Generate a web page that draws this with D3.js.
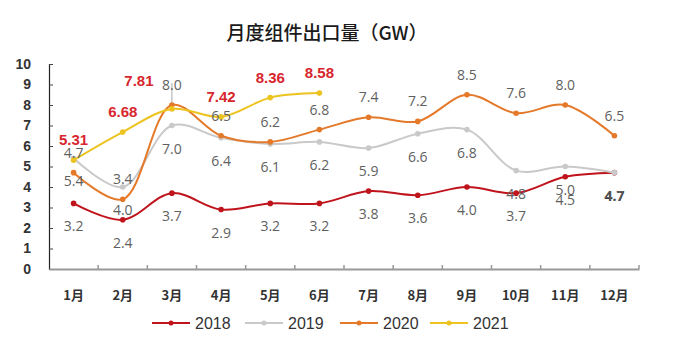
<!DOCTYPE html>
<html>
<head>
<meta charset="utf-8">
<script src="https://cdn.jsdelivr.net/npm/d3@7"></script>
<style>
	body { margin: 0; background: #fff; }
	svg { display: block; }
</style>
</head>
<body>
<svg id="chart" width="680" height="343"></svg>
<script>
'use strict';

var arrayMonths = ['1月','2月','3月','4月','5月','6月','7月','8月','9月','10月','11月','12月'];
var array2018 = [3.2, 2.4, 3.7, 2.9, 3.2, 3.2, 3.8, 3.6, 4.0, 3.7, 4.5, 4.7];
var array2019 = [5.4, 4.0, 7.0, 6.4, 6.1, 6.2, 5.9, 6.6, 6.8, 4.8, 5.0, 4.7];
var array2020 = [4.7, 3.4, 8.0, 6.5, 6.2, 6.8, 7.4, 7.2, 8.5, 7.6, 8.0, 6.5];
var array2021 = [5.31, 6.68, 7.81, 7.42, 8.36, 8.58];
var arrayYTicks = [0, 1, 2, 3, 4, 5, 6, 7, 8, 9, 10];

var arraySeries = [
	{ name: '2018', values: array2018, color: '#c0141c', labelPos: 'below' },
	{ name: '2019', values: array2019, color: '#c9c9c9', labelPos: 'below' },
	{ name: '2020', values: array2020, color: '#e5792a', labelPos: 'above' },
	{ name: '2021', values: array2021, color: '#ecc31f', labelPos: 'above' }
];

var svg = d3.select('#chart');
var nLeft = 49, nRight = 639, nTop = 64, nBottom = 269;

var xScale = d3.scaleBand()
	.domain(arrayMonths)
	.range([nLeft, nRight]);

var yScale = d3.scaleLinear()
	.domain([0, 10])
	.range([nBottom, nTop]);

function xCenter(i) { return xScale(arrayMonths[i]) + xScale.bandwidth() / 2; }

// title
svg.append('text')
	.attr('x', 327).attr('y', 40)
	.attr('text-anchor', 'middle')
	.attr('font-family', '"Noto Sans CJK SC", sans-serif')
	.attr('font-size', 19)
	.attr('font-weight', 500)
	.attr('fill', '#1a1a1a')
	.text('月度组件出口量（GW）');

// y axis
var yAxis = svg.append('g')
	.attr('transform', 'translate(' + nLeft + ',0)')
	.call(d3.axisLeft(yScale).tickValues(arrayYTicks).tickSize(-4).tickPadding(18));
yAxis.select('.domain').attr('stroke', '#222').attr('stroke-width', 1.2);
yAxis.selectAll('.tick line').attr('stroke', '#444');
yAxis.selectAll('text')
	.attr('font-family', '"Liberation Sans", Arial, sans-serif')
	.attr('font-size', 14)
	.attr('font-weight', 'bold')
	.attr('fill', '#333');

// x axis
var xAxis = svg.append('g')
	.attr('transform', 'translate(0,' + nBottom + ')')
	.call(d3.axisBottom(xScale).tickSize(0).tickPadding(22));
xAxis.select('.domain').attr('stroke', '#999').attr('stroke-width', 2);
xAxis.selectAll('text')
	.attr('font-family', '"Noto Sans CJK SC", sans-serif')
	.attr('font-size', 13)
	.attr('font-weight', 'bold')
	.attr('fill', '#333');
svg.append('g').selectAll('line')
	.data(d3.range(1, arrayMonths.length + 1))
	.enter().append('line')
	.attr('x1', function(i) { return nLeft + i * xScale.step(); })
	.attr('x2', function(i) { return nLeft + i * xScale.step(); })
	.attr('y1', nBottom).attr('y2', nBottom - 4)
	.attr('stroke', '#999').attr('stroke-width', 1.5);

// leader line for March 2020 label
svg.append('line')
	.attr('x1', xCenter(2)).attr('x2', xCenter(2))
	.attr('y1', yScale(array2020[2]) - 1).attr('y2', yScale(array2020[2]) - 22)
	.attr('stroke', '#aaa').attr('stroke-width', 1);

var line = d3.line()
	.x(function(d, i) { return xCenter(i); })
	.y(function(d) { return yScale(d); })
	.curve(d3.curveCatmullRom.alpha(0.5));

arraySeries.forEach(function(s) {
	var g = svg.append('g');
	g.append('path')
		.datum(s.values)
		.attr('d', line)
		.attr('fill', 'none')
		.attr('stroke', s.color)
		.attr('stroke-width', 2);
	g.selectAll('circle')
		.data(s.values)
		.enter().append('circle')
		.attr('cx', function(d, i) { return xCenter(i); })
		.attr('cy', function(d) { return yScale(d); })
		.attr('r', 2.8)
		.attr('fill', s.color);
});

// data labels (March 2021 label is pushed left so it clears the 2020 label)
arraySeries.forEach(function(s) {
	var bBold = s.name == '2021';
	svg.append('g').selectAll('text')
		.data(s.values)
		.enter().append('text')
		.attr('x', function(d, i) {
			return xCenter(i) + ((bBold && i == 2) ? -33 : 0);
		})
		.attr('y', function(d, i) {
			if (bBold && i == 2) return yScale(d) - 23;
			return s.labelPos == 'above' ? yScale(d) - 15 : yScale(d) + 28;
		})
		.attr('text-anchor', 'middle')
		.attr('font-family', bBold ? '"Liberation Sans", Arial, sans-serif' : '"Open Sans", sans-serif')
		.attr('font-size', bBold ? 15 : 14)
		.attr('font-weight', function(d, i) {
			return (bBold || (s.name == '2018' && i == 11)) ? 'bold' : 'normal';
		})
		.attr('fill', function(d, i) {
			if (bBold) return '#d7262d';
			if (s.name == '2018' && i == 11) return '#333';
			return '#5f5f5f';
		})
		.text(function(d) { return bBold ? d.toFixed(2) : d.toFixed(1); });
});

// legend
var arrayLegendX = [152, 245, 340, 430];
var legend = svg.append('g').selectAll('g')
	.data(arraySeries)
	.enter().append('g')
	.attr('transform', function(d, i) { return 'translate(' + arrayLegendX[i] + ',323)'; });
legend.append('line')
	.attr('x1', 0).attr('x2', 38)
	.attr('stroke', function(d) { return d.color; })
	.attr('stroke-width', 2);
legend.append('circle')
	.attr('cx', 19).attr('r', 2.5)
	.attr('fill', function(d) { return d.color; });
legend.append('text')
	.attr('x', 43).attr('y', 6)
	.attr('font-family', '"Liberation Sans Narrow", "Liberation Sans", Arial, sans-serif')
	.attr('font-size', 16)
	.attr('fill', '#333')
	.text(function(d) { return d.name; });
</script>
</body>
</html>
